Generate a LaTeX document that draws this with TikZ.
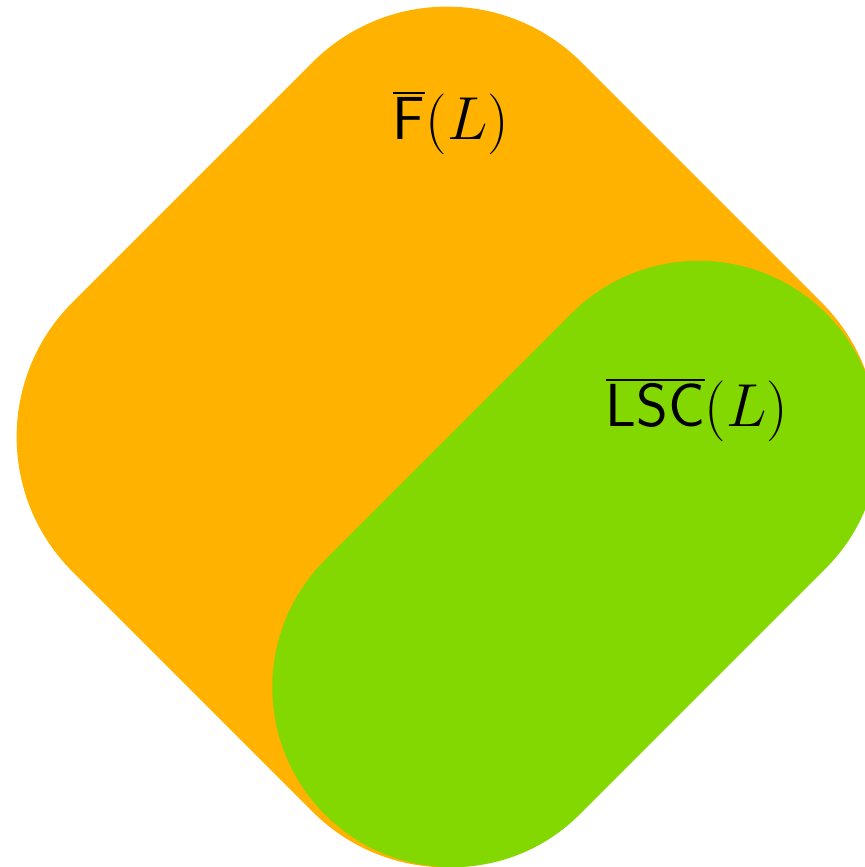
\documentclass[tikz,border=0pt]{standalone}
\usepackage{tikz}
\definecolor{setorange}{RGB}{255,178,0}
\definecolor{setgreen}{RGB}{130,216,0}
\tikzset{
  fset/.style={fill=setorange},
  lscset/.style={fill=setgreen},
  setlabel/.style={anchor=base, inner sep=0pt, font=\fontsize{17.5}{20}\selectfont}
}
\begin{document}
\begin{tikzpicture}[x=0.01cm, y=0.01cm]

  % Frame of the picture
  \clip (0,0) rectangle (865,867);

  % Orange set: rotated square with round corners
  \begin{scope}[shift={(447,430)}, rotate=45]
    \fill[fset, rounded corners=1.9cm] (-360,-360) rectangle (360,360);
  \end{scope}

  % Green set: rotated stadium
  \begin{scope}[shift={(575.5,303)}, rotate=45]
    \fill[lscset, rounded corners=1.8cm] (-354.3,-180) rectangle (354.3,180);
  \end{scope}

  % Labels
  \node[setlabel] (flabel) at (451,727) {$\overline{\mathsf{F}}(L)$};
  \node[setlabel] (lsclabel) at (697,440) {$\overline{\mathsf{LSC}}(L)$};

\end{tikzpicture}
\end{document}
